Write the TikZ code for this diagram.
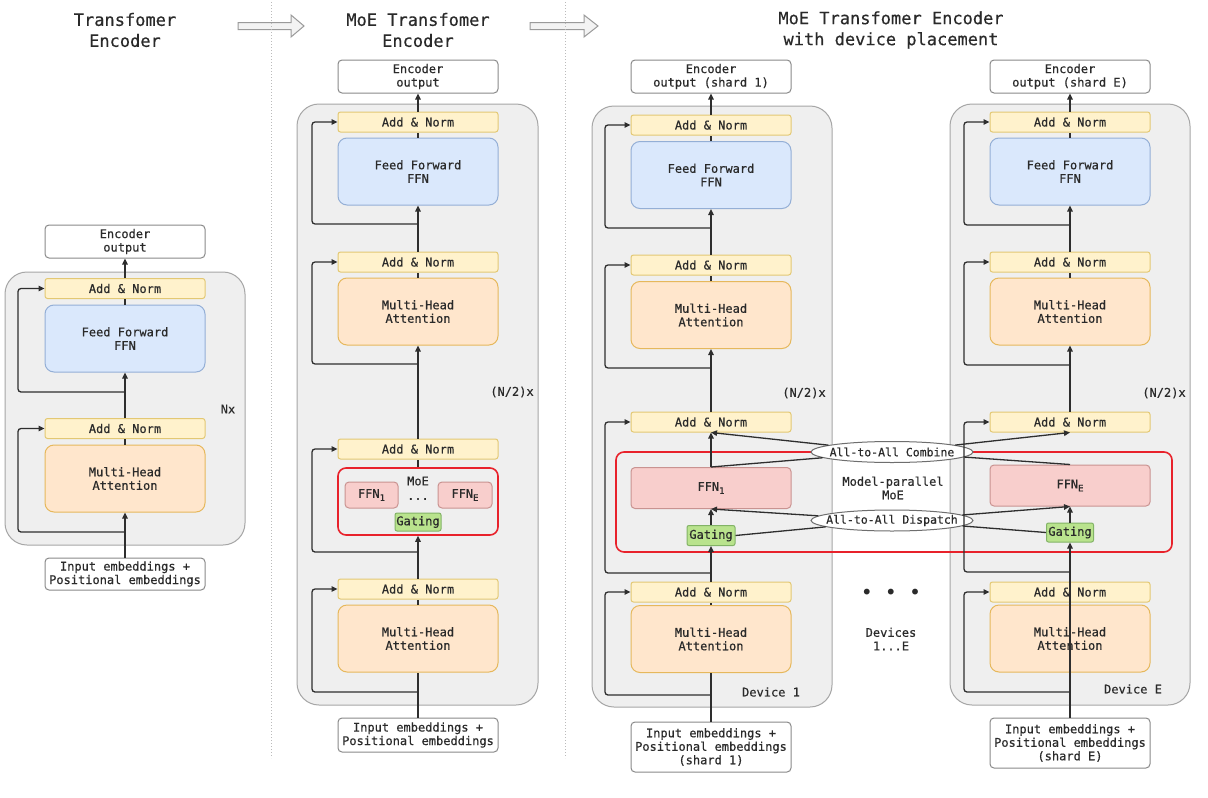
\documentclass[tikz,border=0pt]{standalone}
\usepackage{fontspec}
\setmainfont[BoldFont={DejaVu Sans Mono},BoldFeatures={FakeBold=0.45}]{DejaVu Sans Mono}
\setmonofont{DejaVu Sans Mono}
\usetikzlibrary{arrows.meta,shapes.geometric}
\definecolor{txt}{HTML}{2A2A2A}
\definecolor{anF}{HTML}{FFF2CC}
\definecolor{anB}{HTML}{E3C873}
\definecolor{ffF}{HTML}{DAE8FC}
\definecolor{ffB}{HTML}{94AFD6}
\definecolor{mhF}{HTML}{FFE6CC}
\definecolor{mhB}{HTML}{E6B85C}
\definecolor{exF}{HTML}{F8CECC}
\definecolor{exB}{HTML}{C99391}
\definecolor{gtF}{HTML}{B9E38D}
\definecolor{gtB}{HTML}{82B366}
\definecolor{ioB}{HTML}{8A8A8A}
\definecolor{cF}{HTML}{EFEFEF}
\definecolor{cB}{HTML}{A6A6A6}
\definecolor{redC}{HTML}{E8222B}
\definecolor{elB}{HTML}{6E6E6E}
\definecolor{lnC}{HTML}{2E2E2E}
\definecolor{dotC}{HTML}{BBBBBB}
\definecolor{harF}{HTML}{F3F3F3}
\definecolor{harB}{HTML}{9A9A9A}
\newcommand\fsz{\fontsize{12}{13.5}\selectfont\bfseries}
\newcommand\tsz{\fontsize{17}{21}\selectfont\bfseries}
\newcommand\mysub[1]{\raisebox{-0.45ex}{\fontsize{9}{9}\selectfont #1}}
\tikzset{
 base/.style={font=\fsz, text=txt, inner sep=0pt, align=center},
 an/.style={base, draw=anB, fill=anF, rounded corners=2.5pt, minimum width=160pt, minimum height=20pt, line width=1pt},
 ffb/.style={base, draw=ffB, fill=ffF, rounded corners=9pt, minimum width=160pt, minimum height=67pt, line width=1pt},
 mhb/.style={base, draw=mhB, fill=mhF, rounded corners=9pt, minimum width=160pt, minimum height=67pt, line width=1pt},
 iob/.style={base, draw=ioB, fill=white, rounded corners=4pt, minimum width=160pt, line width=1pt},
 expb/.style={base, draw=exB, fill=exF, rounded corners=4pt, line width=1pt},
 gateb/.style={base, draw=gtB, fill=gtF, rounded corners=2pt, line width=1pt},
 contb/.style={draw=cB, fill=cF, rounded corners=22pt, line width=1pt},
 redb/.style={draw=redC, rounded corners=8pt, line width=1.6pt, inner sep=0pt},
 a2a/.style={ellipse, draw=elB, fill=white, minimum width=162pt, minimum height=21pt, inner sep=0pt, line width=1pt},
 conn/.style={draw=lnC, line width=1.3pt},
 arr/.style={conn, -{Triangle[length=6pt,width=5.5pt]}},
 res/.style={arr, rounded corners=3pt},
 lbl/.style={base},
 ttl/.style={base, font=\tsz},
 harr/.style={draw=harB, fill=harF, line width=1pt},
 sep/.style={draw=dotC, dotted, line width=1pt},
}
\begin{document}
\begin{tikzpicture}[x=1pt,y=-1pt]
\useasboundingbox (0,0) rectangle (1208,798);
\fill[white] (0,0) rectangle (1208,798);

% titles
\node[ttl] (t0) at (125,30) {Transfomer\\Encoder};
\node[ttl] (t1) at (418,30) {MoE Transfomer\\Encoder};
\node[ttl] (t2) at (891,30) {MoE Transfomer Encoder\\with device placement};

% hollow arrows and separators
\draw[harr] (238,22.5) -- (291,22.5) -- (291,15) -- (304,26) -- (291,37) -- (291,29.5) -- (238,29.5) -- cycle;
\draw[harr] (530,22.5) -- (584,22.5) -- (584,15) -- (598,26) -- (584,37) -- (584,29.5) -- (530,29.5) -- cycle;
\draw[sep] (271,2) -- (271,758);
\draw[sep] (565,2) -- (565,758);

% containers
\draw[contb] (5,272) rectangle (245,545);
\draw[contb] (297,104) rectangle (538,705);
\draw[contb] (592,106) rectangle (832,707);
\draw[contb] (950,104) rectangle (1190,705);
\draw[redb] (616,452) rectangle (1172,552);

% ---------- left column ----------
\node[iob, minimum height=33pt] (out0) at (125,241.5) {Encoder\\output};
\node[an] (an0a) at (125,288.5) {Add \& Norm};
\node[ffb] (ff0) at (125,338.5) {Feed Forward\\FFN};
\node[an] (an0b) at (125,428.5) {Add \& Norm};
\node[mhb] (mh0) at (125,478.5) {Multi-Head\\Attention};
\node[iob, minimum height=32pt] (in0) at (125,574) {Input embeddings +\\Positional embeddings};
\node[lbl] (nx) at (228,409) {Nx};
\coordinate (r0a) at (125,392);
\coordinate (r0b) at (125,532);

% ---------- middle column ----------
\node[iob, minimum height=33pt] (out1) at (418,76.5) {Encoder\\output};
\node[an] (an1a) at (418,122) {Add \& Norm};
\node[ffb] (ff1) at (418,171.5) {Feed Forward\\FFN};
\node[an] (an1b) at (418,262) {Add \& Norm};
\node[mhb] (mh1a) at (418,311.5) {Multi-Head\\Attention};
\node[lbl] (nh1) at (512,392) {(N/2)x};
\node[an] (an1c) at (418,449) {Add \& Norm};
\node[redb, minimum width=160pt, minimum height=67pt] (moe1) at (418,501.5) {};
\node[lbl] (moel) at (418,481) {MoE};
\node[expb, minimum width=53pt, minimum height=26pt] (ffa1) at (371.5,495) {FFN\mysub{1}};
\node[lbl] (dots1) at (418,499) {...};
\node[expb, minimum width=54pt, minimum height=26pt] (ffe1) at (465,495) {FFN\mysub{E}};
\node[gateb, minimum width=46pt, minimum height=18pt] (gate1) at (418,522) {Gating};
\node[an] (an1d) at (418,589) {Add \& Norm};
\node[mhb] (mh1b) at (418,638.5) {Multi-Head\\Attention};
\node[iob, minimum height=34pt] (in1) at (418,735) {Input embeddings +\\Positional embeddings};
\coordinate (r1a) at (418,224);
\coordinate (r1b) at (418,364);
\coordinate (r1c) at (418,552);
\coordinate (r1d) at (418,692);

% ---------- device 1 ----------
\node[iob, minimum height=33pt] (out2) at (711,76.5) {Encoder\\output (shard 1)};
\node[an] (an2a) at (711,125) {Add \& Norm};
\node[ffb] (ff2) at (711,175) {Feed Forward\\FFN};
\node[an] (an2b) at (711,265) {Add \& Norm};
\node[mhb] (mh2a) at (711,315) {Multi-Head\\Attention};
\node[lbl] (nh2) at (804,393) {(N/2)x};
\node[an] (an2c) at (711,422) {Add \& Norm};
\node[expb, minimum width=160pt, minimum height=41pt] (fa) at (711,488) {FFN\mysub{1}};
\node[gateb, minimum width=48pt, minimum height=20pt] (gate2) at (711,535.5) {Gating};
\node[an] (an2d) at (711,592) {Add \& Norm};
\node[mhb] (mh2b) at (711,639) {Multi-Head\\Attention};
\node[lbl] (dev1) at (771,692) {Device 1};
\node[iob, minimum height=50pt] (in2) at (711,747) {Input embeddings +\\Positional embeddings\\(shard 1)};
\coordinate (r2a) at (711,228);
\coordinate (r2b) at (711,368);
\coordinate (r2c) at (711,573);
\coordinate (r2d) at (711,695);

% ---------- device E ----------
\node[iob, minimum height=33pt] (out3) at (1070,76.5) {Encoder\\output (shard E)};
\node[an] (an3a) at (1070,122) {Add \& Norm};
\node[ffb] (ff3) at (1070,171.5) {Feed Forward\\FFN};
\node[an] (an3b) at (1070,262) {Add \& Norm};
\node[mhb] (mh3a) at (1070,311.5) {Multi-Head\\Attention};
\node[lbl] (nh3) at (1164,393) {(N/2)x};
\node[an] (an3c) at (1070,422) {Add \& Norm};
\node[expb, minimum width=160pt, minimum height=41pt] (fe) at (1070,485.5) {FFN\mysub{E}};
\node[gateb, minimum width=47pt, minimum height=19pt] (gate3) at (1070,532.5) {Gating};
\node[an] (an3d) at (1070,592) {Add \& Norm};
\node[mhb] (mh3b) at (1070,638.5) {Multi-Head\\Attention};
\node[lbl] (devE) at (1133,689) {Device E};
\node[iob, minimum height=50pt] (in3) at (1070,743) {Input embeddings +\\Positional embeddings\\(shard E)};
\coordinate (r3a) at (1070,225);
\coordinate (r3b) at (1070,365);
\coordinate (r3c) at (1070,572);
\coordinate (r3d) at (1070,692);

% ---------- centre ----------
\node[lbl] (mpm) at (893,488) {Model-parallel\\MoE};
\node[a2a, label={[base, font=\fontsize{11.5}{13}\selectfont\bfseries]center:All-to-All Combine}] (comb) at (892,452) {};
\node[a2a, label={[base, font=\fontsize{11.5}{13}\selectfont\bfseries]center:All-to-All Dispatch}] (disp) at (892,520.5) {};
\node[base, font=\fontsize{20}{20}\selectfont] (dots) at (891,594) {• • •};
\node[lbl] (devs) at (891,639) {Devices\\1...E};

% ---------- connectors: left ----------
\draw[arr] (in0) -- (mh0);
\draw[conn] (mh0) -- (an0b);
\draw[arr] (an0b) -- (ff0);
\draw[conn] (ff0) -- (an0a);
\draw[arr] (an0a) -- (out0);
\draw[res] (r0b) -- ++(-107,0) |- (an0b.west);
\draw[res] (r0a) -- ++(-107,0) |- (an0a.west);

% ---------- connectors: middle ----------
\draw[conn] (in1) -- (mh1b);
\draw[conn] (mh1b) -- (an1d);
\draw[arr] (an1d) -- (moe1);
\draw[conn] (moe1) -- (an1c);
\draw[arr] (an1c) -- (mh1a);
\draw[conn] (mh1a) -- (an1b);
\draw[arr] (an1b) -- (ff1);
\draw[conn] (ff1) -- (an1a);
\draw[arr] (an1a) -- (out1);
\draw[res] (r1d) -- ++(-106,0) |- (an1d.west);
\draw[res] (r1c) -- ++(-106,0) |- (an1c.west);
\draw[res] (r1b) -- ++(-106,0) |- (an1b.west);
\draw[res] (r1a) -- ++(-106,0) |- (an1a.west);

% ---------- connectors: device 1 ----------
\draw[conn] (in2) -- (mh2b);
\draw[conn] (mh2b) -- (an2d);
\draw[arr] (an2d) -- (gate2);
\draw[arr] (gate2) -- (fa);
\draw[arr] (fa) -- (an2c);
\draw[arr] (an2c) -- (mh2a);
\draw[conn] (mh2a) -- (an2b);
\draw[arr] (an2b) -- (ff2);
\draw[conn] (ff2) -- (an2a);
\draw[arr] (an2a) -- (out2);
\draw[res] (r2d) -- ++(-106,0) |- (an2d.west);
\draw[res] (r2c) -- ++(-106,0) |- (an2c.west);
\draw[res] (r2b) -- ++(-106,0) |- (an2b.west);
\draw[res] (r2a) -- ++(-106,0) |- (an2a.west);

% ---------- connectors: device E ----------
\draw[arr] (in3) -- (gate3);
\draw[arr] (gate3) -- (fe);
\draw[arr] (an3c) -- (mh3a);
\draw[conn] (mh3a) -- (an3b);
\draw[arr] (an3b) -- (ff3);
\draw[conn] (ff3) -- (an3a);
\draw[arr] (an3a) -- (out3);
\draw[res] (r3d) -- ++(-106,0) |- (an3d.west);
\draw[res] (r3c) -- ++(-106,0) |- (an3c.west);
\draw[res] (r3b) -- ++(-106,0) |- (an3b.west);
\draw[res] (r3a) -- ++(-106,0) |- (an3a.west);

% ---------- all-to-all ----------
\draw[conn] (fa.north) -- (comb);
\draw[arr] (comb) -- (an2c.south);
\draw[arr] (comb) -- (an3c.south);
\draw[conn] (fe.north) -- (comb);
\draw[conn] (gate2.east) -- (disp);
\draw[arr] (disp) -- (fa.south);
\draw[arr] (disp) -- (fe.south);
\draw[conn] (gate3.west) -- (disp);
\end{tikzpicture}
\end{document}
